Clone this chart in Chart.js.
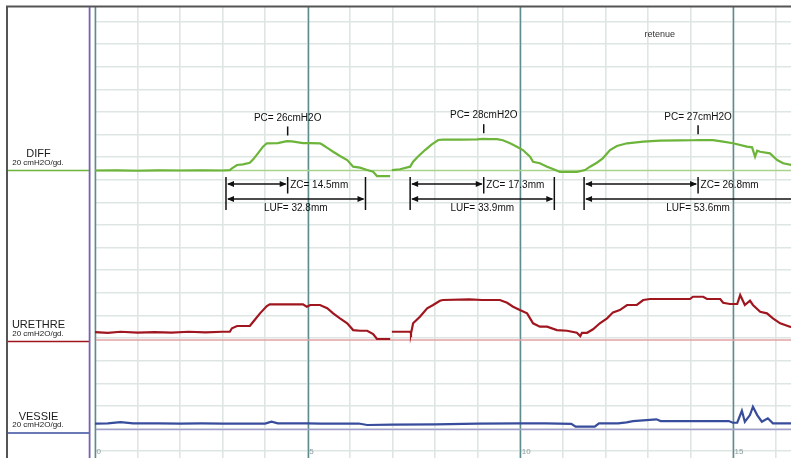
<!DOCTYPE html>
<html>
<head>
<meta charset="utf-8">
<script src="https://cdn.jsdelivr.net/npm/chart.js@4/dist/chart.umd.min.js"></script>
<style>
  html, body { margin: 0; padding: 0; background: #fff; overflow: hidden; }
  canvas { display: block; }
</style>
</head>
<body>
<canvas id="profil" width="791" height="458"></canvas>
<script>
// Urethral pressure profile: catheter position (cm) against pressure (cmH2O)
const diffPos = [0, 0.5, 1.0, 1.5, 2.0, 2.5, 3.0, 3.17, 3.22, 3.34, 3.48, 3.64, 3.72, 3.83, 3.95, 4.04, 4.30, 4.51, 4.63, 4.89, 5.06, 5.29, 5.36, 5.48, 5.60, 5.76, 5.93, 6.07, 6.23, 6.40, 6.54, 6.63, 6.94, 6.96, 6.98, 7.17, 7.41, 7.48, 7.59, 7.76, 7.92, 8.07, 8.18, 8.60, 8.98, 9.12, 9.29, 9.45, 9.59, 9.76, 9.92, 10.06, 10.23, 10.30, 10.46, 10.63, 10.77, 10.93, 11.33, 11.52, 11.64, 11.80, 11.94, 12.11, 12.27, 12.51, 12.89, 13.28, 13.76, 14.06, 14.20, 14.53, 14.77, 15.00, 15.33, 15.45, 15.52, 15.57, 15.64, 15.87, 16.04, 16.18, 16.37];
const diffVal = [0, 0.2, -0.2, 0.2, 0, 0.2, 0, 0.4, 1.9, 4.9, 5.5, 6.9, 9.9, 15.2, 21.1, 24.1, 24.3, 26, 25.8, 24.3, 24.3, 24.1, 22.6, 19.6, 16.6, 12.8, 9.3, 3.4, 2.5, 0.4, -1.1, -4.9, -4.9, null, 0.4, 1.1, 3.4, 7.8, 12.2, 18.1, 23.2, 27.0, 27.4, 27.4, 27.6, 28, 27.8, 27.8, 26.8, 24.1, 21.1, 18.1, 12.2, 7.8, 6.4, 3.4, 1.3, -1.3, -1.3, 0.4, 3.4, 6.9, 10.8, 18.1, 21.7, 24.1, 25.5, 26.5, 26.6, 26.8, 27, 26.9, 25.5, 24.1, 21.1, 20.5, 12.2, 17.5, 16.6, 15.2, 9.3, 6.4, 4.9];

const urethrePos = [0, 0.3, 0.6, 1.0, 1.4, 1.8, 2.2, 2.6, 3.0, 3.17, 3.22, 3.34, 3.64, 3.72, 3.88, 4.04, 4.11, 4.89, 4.98, 5.06, 5.29, 5.46, 5.60, 5.76, 5.93, 6.07, 6.23, 6.40, 6.54, 6.63, 6.94, 6.96, 6.98, 7.41, 7.43, 7.48, 7.64, 7.81, 7.95, 8.11, 8.18, 8.80, 9.10, 9.52, 9.69, 9.83, 9.99, 10.16, 10.30, 10.46, 10.63, 10.86, 11.10, 11.33, 11.41, 11.45, 11.57, 11.71, 11.87, 12.04, 12.18, 12.34, 12.51, 12.74, 12.89, 13.05, 13.99, 14.06, 14.30, 14.39, 14.70, 14.77, 14.93, 15.10, 15.17, 15.28, 15.40, 15.47, 15.64, 15.80, 15.94, 16.11, 16.34, 16.37];
const urethreVal = [7.0, 6.4, 7.3, 6.6, 7.0, 6.6, 7.3, 6.8, 7.3, 7.3, 10.4, 12.4, 12.4, 16.2, 23.6, 30.1, 31.6, 31.6, 29.5, 31.0, 31.0, 28.1, 23.6, 19.2, 14.8, 8.8, 8.2, 8.2, 5.3, 0.9, 0.9, null, 7.3, 7.3, 5.9, 14.8, 20.6, 28.1, 31.0, 34.8, 35.4, 36.0, 35.4, 35.4, 33.0, 29.5, 26.5, 23.6, 14.8, 11.8, 11.8, 8.8, 8.2, 6.4, 3.5, 6.4, 6.4, 9.5, 14.8, 19.2, 24.5, 26.5, 31.0, 31.0, 35.4, 36.3, 36.3, 38.3, 38.3, 36.3, 36.3, 33.0, 31.9, 31.9, 39.8, 31.0, 34.8, 31.0, 25.0, 23.6, 19.2, 14.8, 11.8, 11.5];

const vessiePos = [0, 0.3, 0.6, 0.9, 1.5, 2.0, 2.5, 3.0, 4.0, 4.15, 4.3, 5.0, 5.3, 6.2, 6.4, 7.0, 8.0, 9.0, 10.0, 10.6, 11.2, 11.3, 11.75, 11.85, 12.3, 12.5, 12.65, 13.2, 13.3, 14.9, 15.0, 15.1, 15.21, 15.28, 15.40, 15.47, 15.57, 15.68, 15.82, 15.94, 16.37];
const vessieVal = [5.3, 5.5, 6.5, 5.5, 5.5, 5.3, 5.5, 5.3, 5.3, 6.9, 5.5, 5.5, 5.3, 5.3, 4.0, 4.4, 4.6, 5.3, 5.5, 5.5, 5.0, 2.5, 2.5, 5.5, 5.5, 6.4, 7.5, 9.0, 7.5, 7.5, 6.0, 6.0, 16.6, 6.9, 12.8, 20.2, 12.8, 6.9, 9.9, 5.5, 5.5];

const channelNames = ['DIFF', 'URETHRE', 'VESSIE'];
const channelUnit = '20 cmH2O/gd.';
const xTickValues = [0, 5, 10, 15];
const xTickLabels = ['0', '5', '10', '15'];

// measurements on the closure pressure trace
const pcValues = [26, 28, 27];            // cmH2O
const zoneStart = [3.08, 7.41, 11.50];    // cm
const zcLengths = [14.5, 17.3, 26.8];     // mm
const lufLengths = [32.8, 33.9, 53.6];    // mm
const eventLabel = 'retenue';
const eventPos = 13.28;                   // cm

// layout of the shared vertical axis (cmH2O, one grid division = 20)
const Y_MIN = -6.1, Y_MAX = 393;
const channelZero = [248.3, 98.3, 19.1];
const X_MAX = 16.365;

const FONT = "'Liberation Sans', Arial, Helvetica, sans-serif";
const traceColors = ['#6cb43a', '#a0161f', '#384c9c'];
const baseColors = ['#a9d28c', '#e3a2a4', '#a39fcc'];
const TEAL = '#5c8c8c';
const GRID = '#dee6e4';

function toPoints(pos, val, zero) {
  return pos.map((p, i) => ({ x: p, y: val[i] === null ? null : val[i] + zero }));
}

const decorations = {
  id: 'decorations',
  beforeDraw(chart) {
    const c = chart.ctx;
    c.save();
    c.fillStyle = '#fff';
    c.fillRect(0, 0, chart.width, chart.height);
    c.restore();
  },
  beforeDatasetsDraw(chart) {
    const c = chart.ctx, a = chart.chartArea, xs = chart.scales.x, ys = chart.scales.y;
    c.save();
    // major position lines every 5 cm, above the light grid
    c.strokeStyle = TEAL;
    c.lineWidth = 1.5;
    xTickValues.forEach(v => {
      const x = Math.round(xs.getPixelForValue(v)) + 0.5;
      c.beginPath(); c.moveTo(x, a.top); c.lineTo(x, a.bottom); c.stroke();
    });
    // channel zero lines
    c.lineWidth = 1.6;
    channelZero.forEach((z, i) => {
      const y = ys.getPixelForValue(z);
      c.strokeStyle = baseColors[i];
      c.beginPath(); c.moveTo(a.left + 1, y); c.lineTo(a.right, y); c.stroke();
    });
    c.restore();
  },
  afterDraw(chart) {
    const c = chart.ctx, a = chart.chartArea, xs = chart.scales.x, ys = chart.scales.y;
    c.save();

    // left label panel
    c.fillStyle = '#fff';
    c.fillRect(0, 0, a.left - 1, chart.height);
    c.fillRect(0, 0, chart.width, a.top - 1);
    const shift = [0, 1.5, 3.5];
    channelZero.forEach((z, i) => {
      const y = ys.getPixelForValue(z) + shift[i];
      c.strokeStyle = traceColors[i];
      c.lineWidth = 1.6;
      c.beginPath(); c.moveTo(7, y); c.lineTo(89, y); c.stroke();
      c.fillStyle = '#1a1a1a';
      c.textAlign = 'center';
      c.textBaseline = 'alphabetic';
      c.font = '11px ' + FONT;
      c.fillText(channelNames[i], 38.5, y - 13.3);
      c.font = '8px ' + FONT;
      c.fillText(channelUnit, 38, y - 5.8);
    });

    // frame
    c.strokeStyle = '#555';
    c.lineWidth = 2;
    c.beginPath(); c.moveTo(7, chart.height); c.lineTo(7, 6.5); c.lineTo(chart.width, 6.5); c.stroke();
    c.strokeStyle = '#7363b0';
    c.lineWidth = 1.8;
    c.beginPath(); c.moveTo(89.6, 7); c.lineTo(89.6, chart.height); c.stroke();

    // position labels along the bottom
    c.fillStyle = '#8a9d9d';
    c.font = '8px ' + FONT;
    c.textAlign = 'left';
    c.textBaseline = 'alphabetic';
    xTickValues.forEach((v, i) => {
      c.fillText(xTickLabels[i], xs.getPixelForValue(v) + 1.5, 453.5);
    });

    // event marker
    c.fillStyle = '#333';
    c.font = '9px ' + FONT;
    c.textAlign = 'center';
    c.textBaseline = 'middle';
    c.fillText(eventLabel, xs.getPixelForValue(eventPos), ys.getPixelForValue(369));

    // PC / ZC / LUF measurements on DIFF
    const base = ys.getPixelForValue(channelZero[0]);
    const head = (x, y, dir) => {
      c.beginPath();
      c.moveTo(x, y);
      c.lineTo(x - dir * 7, y - 3);
      c.lineTo(x - dir * 7, y + 3);
      c.closePath();
      c.fill();
    };
    const vbar = (x, y0, y1) => { c.beginPath(); c.moveTo(x, y0); c.lineTo(x, y1); c.stroke(); };
    c.strokeStyle = '#111';
    c.fillStyle = '#111';
    c.lineWidth = 1.5;
    pcValues.forEach((pc, i) => {
      const x0 = xs.getPixelForValue(zoneStart[i]);
      const xz = xs.getPixelForValue(zoneStart[i] + zcLengths[i] / 10);
      const xl = xs.getPixelForValue(zoneStart[i] + lufLengths[i] / 10);
      vbar(x0, base + 6.5, base + 39.5);
      vbar(xz, base + 6.5, base + 23);
      vbar(xl, base + 6.5, base + 39.5);
      const yz = base + 13.5, yl = base + 28.5;
      c.beginPath(); c.moveTo(x0 + 2, yz); c.lineTo(xz - 2, yz); c.stroke();
      head(x0 + 1, yz, -1); head(xz - 1, yz, 1);
      c.beginPath(); c.moveTo(x0 + 2, yl); c.lineTo(xl - 2, yl); c.stroke();
      head(x0 + 1, yl, -1); head(xl - 1, yl, 1);
      // PC marker
      vbar(xz, ys.getPixelForValue(channelZero[0] + pc + 5), ys.getPixelForValue(channelZero[0] + pc + 13));
      c.font = '10px ' + FONT;
      c.textBaseline = 'middle';
      c.textAlign = 'center';
      c.fillText('PC= ' + pc + 'cmH2O', xz, ys.getPixelForValue(channelZero[0] + pc + 20.5));
      c.textAlign = 'left';
      c.fillText('ZC= ' + zcLengths[i].toFixed(1) + 'mm', xz + 2.5, base + 14.5);
      c.textAlign = 'center';
      c.fillText('LUF= ' + lufLengths[i].toFixed(1) + 'mm', (x0 + xl) / 2, base + 38);
    });
    c.restore();
  }
};

new Chart(document.getElementById('profil'), {
  type: 'line',
  data: {
    datasets: [
      { label: channelNames[0], data: toPoints(diffPos, diffVal, channelZero[0]), borderColor: traceColors[0] },
      { label: channelNames[1], data: toPoints(urethrePos, urethreVal, channelZero[1]), borderColor: traceColors[1] },
      { label: channelNames[2], data: toPoints(vessiePos, vessieVal, channelZero[2]), borderColor: traceColors[2] }
    ]
  },
  options: {
    responsive: false,
    devicePixelRatio: 1,
    animation: false,
    spanGaps: false,
    layout: { padding: { left: 95, top: 7, right: 0, bottom: 0 } },
    elements: {
      point: { radius: 0 },
      line: { borderWidth: 2.2, tension: 0, fill: false }
    },
    plugins: { legend: { display: false }, tooltip: { enabled: false } },
    scales: {
      x: {
        type: 'linear',
        min: 0,
        max: X_MAX,
        border: { display: false },
        ticks: { display: false, stepSize: 1, includeBounds: false },
        grid: { drawTicks: false, color: GRID, lineWidth: 1.6 }
      },
      y: {
        type: 'linear',
        min: Y_MIN,
        max: Y_MAX,
        border: { display: false },
        ticks: { display: false, stepSize: 20, includeBounds: false },
        grid: { drawTicks: false, color: GRID, lineWidth: 1.6 }
      }
    }
  },
  plugins: [decorations]
});
</script>
</body>
</html>
